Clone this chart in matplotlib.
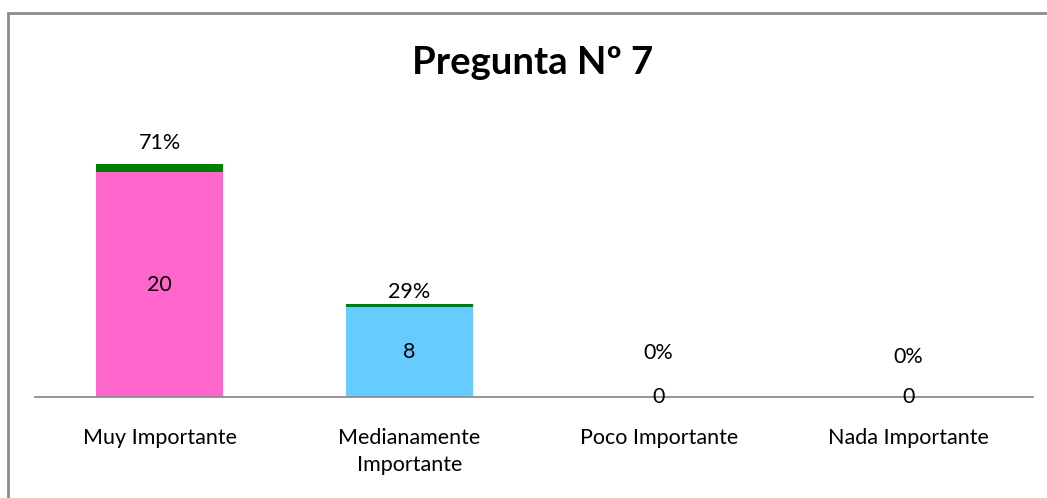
import matplotlib
matplotlib.use('Agg')
import matplotlib.pyplot as plt
from matplotlib.patches import Rectangle

# datos
categorias = ['Muy Importante', 'Medianamente\nImportante', 'Poco Importante', 'Nada Importante']
cantidad = [20, 8, 0, 0]
porcentaje = [0.71, 0.29, 0.0, 0.0]
etiquetas_pct = ['71%', '29%', '0%', '0%']

# desplazamiento de la etiqueta % sobre la barra (pixeles)
pct_offset = [21, 12, 44, 40]

plt.rcParams['font.family'] = ['Lato', 'DejaVu Sans']

fig = plt.figure(figsize=(10.47, 4.98), dpi=100)
fig.patches.append(Rectangle((8 / 1047, -0.01), 1.02, 1 - 13 / 498 + 0.01,
                             transform=fig.transFigure, fill=False,
                             edgecolor='#8c8c8c', linewidth=2))

ax = fig.add_axes([35 / 1047, 101 / 498, 998 / 1047, 270 / 498])
x = list(range(len(categorias)))
ax.bar(x, cantidad, width=0.51, color=['#ff66cc', '#66ccff', '#ff66cc', '#66ccff'])
ax.bar(x, porcentaje, width=0.51, bottom=cantidad, color='#008000')

ax.set_xlim(-0.5, 3.5)
ax.set_ylim(0, 24)
for s in ['top', 'right', 'left']:
    ax.spines[s].set_visible(False)
ax.spines['bottom'].set_color('#8c8c8c')
ax.spines['bottom'].set_linewidth(1.3)
ax.set_yticks([])
ax.set_xticks(x)
ax.set_xticklabels(categorias, fontsize=15.5, linespacing=1.45)
ax.tick_params(axis='x', length=0, pad=22)

for i in x:
    ax.text(i, cantidad[i] / 2, str(cantidad[i]), ha='center', va='center', fontsize=15.5)
    ax.annotate(etiquetas_pct[i], (i, cantidad[i] + porcentaje[i]),
                xytext=(0, pct_offset[i] * 0.72), textcoords='offset points',
                ha='center', va='center', fontsize=15.5)

fig.text(533 / 1047, 1 - 63 / 498, 'Pregunta Nº 7', ha='center', va='center',
         fontsize=27.5, fontweight='bold')

fig.savefig('out.png', dpi=100)
